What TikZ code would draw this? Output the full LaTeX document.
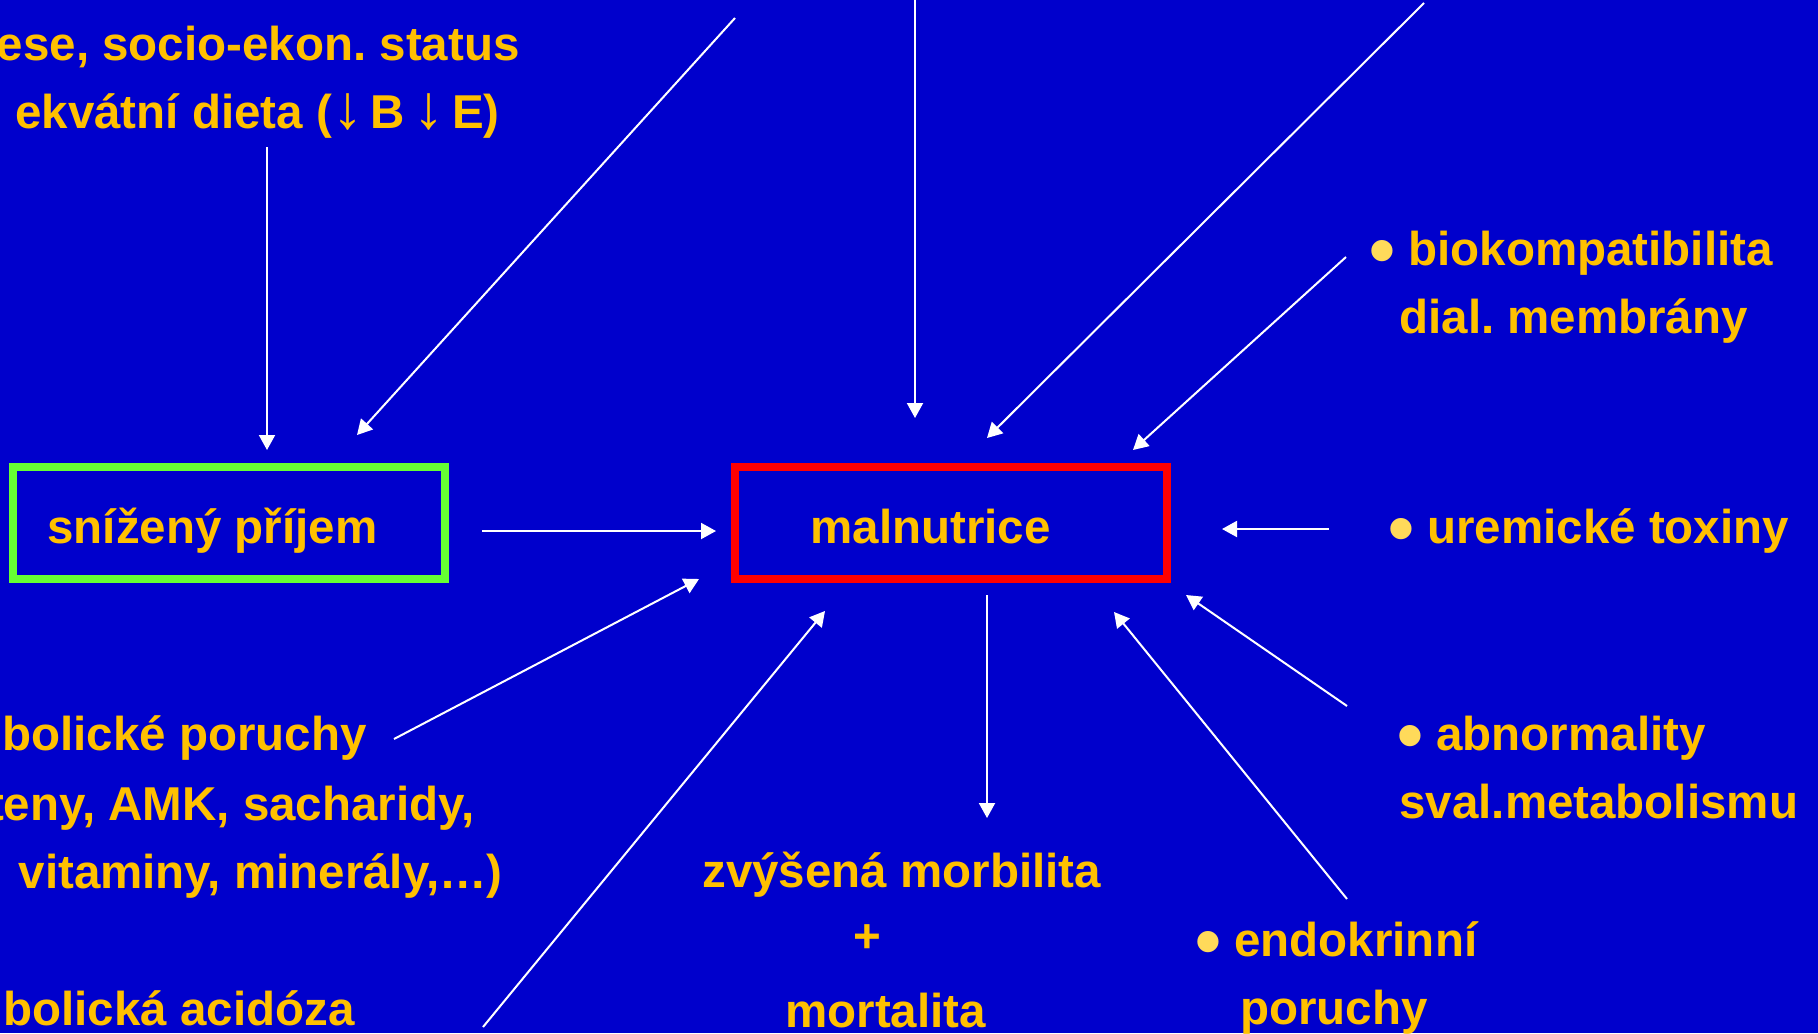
\documentclass[tikz,border=0pt]{standalone}
\usepackage{fontspec}
\setmainfont{Liberation Sans}
\usetikzlibrary{arrows.meta}
\frenchspacing
\definecolor{slideblue}{RGB}{0,0,204}
\definecolor{txtgold}{RGB}{255,192,0}
\definecolor{dotgold}{RGB}{255,218,90}
\definecolor{boxgreen}{RGB}{102,255,51}
\definecolor{boxred}{RGB}{255,0,0}
\newcommand{\blt}{\makebox[18pt][l]{\hspace*{-1.5pt}\raisebox{-5pt}{\fontsize{37}{37}\selectfont\color{dotgold}•}}}
\newcommand{\dn}{{\fontsize{31}{31}\selectfont ↓}}
\tikzset{
  txt/.style={inner sep=0pt, text=txtgold, font=\fontsize{23.75}{30}\selectfont\bfseries},
  frame/.style={line width=4pt, inner sep=0pt, minimum width=216pt, minimum height=56pt},
  link/.style={draw=white, line width=1pt, -{Triangle[length=7.5pt,width=8pt]}}
}

\begin{document}
\begin{tikzpicture}[x=0.5pt, y=-0.5pt]
\useasboundingbox[fill=slideblue] (0,0) rectangle (1818,1033);

\node [frame, draw=boxgreen] (prijem) at (228.5,522.5) {};
\node [frame, draw=boxred] (maln) at (951,523) {};
\node [txt, anchor=base west] (prijemt) at (47,543) {snížený příjem};
\node [txt, anchor=base west] (malnt) at (810,543) {malnutrice};

\node [txt, anchor=base east] (socio) at (520,60) {ese, socio-ekon. status};
\node [txt, anchor=base east] (dieta) at (500,128) {ekvátní dieta (\dn\,B\,\dn\,E)};
\node [txt, anchor=base east] (metab) at (367,750) {bolické poruchy};
\node [txt, anchor=base east] (metab2) at (475,820) {teny, AMK, sacharidy,};
\node [txt, anchor=base east] (metab3) at (503,888) {vitaminy, minerály,…)};
\node [txt, anchor=base east] (acid) at (355,1025) {bolická acidóza};

\node [txt, anchor=base west] (morb) at (702,887) {zvýšená morbilita};
\node [txt, anchor=base] (plus) at (867,952) {+};
\node [txt, anchor=base west] (mort) at (785,1027) {mortalita};

\node [txt, anchor=base west] (bio) at (1372,265) {\blt biokompatibilita};
\node [txt, anchor=base west] (membr) at (1399,333) {dial. membrány};
\node [txt, anchor=base west] (urem) at (1391,543) {\blt uremické toxiny};
\node [txt, anchor=base west] (abn) at (1400,750) {\blt abnormality};
\node [txt, anchor=base west] (sval) at (1399,818) {sval.metabolismu};
\node [txt, anchor=base west] (endo) at (1198,956) {\blt endokrinní};
\node [txt, anchor=base west] (endo2) at (1240,1024) {poruchy};

\coordinate (dieta-s) at (267,147);
\coordinate (top-a) at (735,18);
\coordinate (top-b) at (915,-5);
\coordinate (top-c) at (1424,3);
\coordinate (bio-w) at (1346,257);
\coordinate (prijem-e) at (482,531);
\coordinate (urem-w) at (1329,529);
\coordinate (metab-e) at (394,739);
\coordinate (acid-e) at (483,1027);
\coordinate (abn-w) at (1347,706);
\coordinate (endo-n) at (1347,899);
\coordinate (morb-n) at (987,818);
\coordinate (maln-s) at (987,595);

\draw [link] (dieta-s) -- (267,450);
\draw [link] (top-a) -- (357,435);
\draw [link] (top-b) -- (915,418);
\draw [link] (top-c) -- (987,438);
\draw [link] (bio-w) -- (1133,450);
\draw [link] (prijem-e) -- (716,531);
\draw [link] (urem-w) -- (1222,529);
\draw [link] (metab-e) -- (699,579);
\draw [link] (acid-e) -- (825,611);
\draw [link] (maln-s) -- (morb-n);
\draw [link] (abn-w) -- (1186,595);
\draw [link] (endo-n) -- (1114,612);
\end{tikzpicture}
\end{document}
